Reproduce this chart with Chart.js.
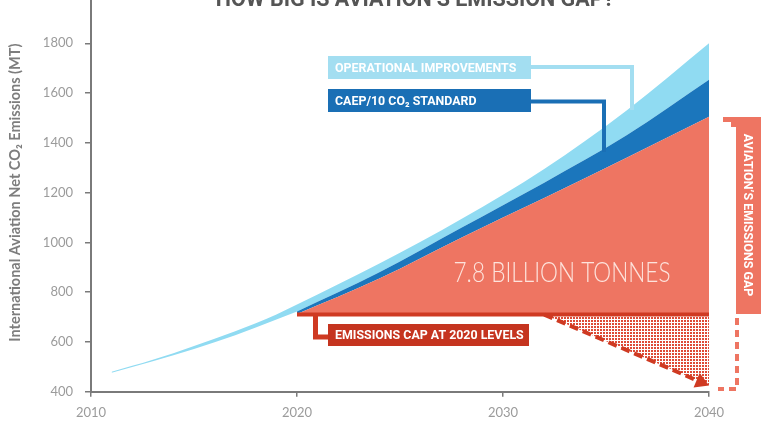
<!DOCTYPE html>
<html>
<head>
<meta charset="utf-8">
<script src="https://cdn.jsdelivr.net/npm/chart.js@4.4.1/dist/chart.umd.min.js"></script>
<style>
  html, body { margin: 0; padding: 0; background: #fff; }
  #frame { position: relative; width: 768px; height: 432px; overflow: hidden; }
  #holder { position: absolute; left: 0; top: -40px; width: 768px; height: 472px; }
</style>
</head>
<body>
<div id="frame"><div id="holder"><canvas id="gap-chart"></canvas></div></div>
<script>
// historical emissions (thin band before 2020)
const histYears = [2011, 2013, 2015, 2017, 2019, 2020];
const histUpper = [480, 528, 584, 643, 710, 750];
const histLower = [476, 522, 572, 627, 690, 722];

// projections 2020-2040
const projYears = [2020, 2024, 2028, 2032, 2036, 2040];
const baseline  = [750, 915, 1095, 1295, 1530, 1800];
const afterOps  = [722, 880, 1060, 1240, 1430, 1653];
const afterCaep = [712, 855, 1020, 1178, 1340, 1505];

// cap at 2020 levels and the path down from it
const capYears = [2020, 2040];
const capValues = [710, 710];
const cutYears = [2032, 2040];
const cutValues = [710, 425];
const arrowYears = [2032, 2039.6];
const arrowValues = [710, 439];

const xTicks = [2010, 2020, 2030, 2040];
const yTicks = [400, 600, 800, 1000, 1200, 1400, 1600, 1800, 2000];

const SHIFT = 40; // canvas is pulled up so the top of the chart is cropped

const LIGHT = '#90dbf2';
const DARK = '#1b76bc';
const SALMON = '#ee7562';
const RED = '#cf3a22';

const pts = (xs, ys) => xs.map((x, i) => ({ x: x, y: ys[i] }));

function dotPattern(ctx) {
  const c = document.createElement('canvas');
  c.width = 3; c.height = 3;
  const g = c.getContext('2d');
  g.fillStyle = '#de4b37';
  g.fillRect(0, 0, 2, 2);
  return ctx.createPattern(c, 'repeat');
}

function box(ctx, text, color, x, y, w, h, font) {
  ctx.fillStyle = color;
  ctx.fillRect(x, y + SHIFT, w, h);
  ctx.fillStyle = '#fff';
  ctx.font = font;
  ctx.textAlign = 'left';
  ctx.textBaseline = 'middle';
  ctx.fillText(text, x + 7, y + SHIFT + h / 2 + 1);
}

function path(ctx, color, width, points) {
  ctx.strokeStyle = color;
  ctx.lineWidth = width;
  ctx.lineJoin = 'miter';
  ctx.beginPath();
  points.forEach((p, i) => i ? ctx.lineTo(p[0], p[1] + SHIFT) : ctx.moveTo(p[0], p[1] + SHIFT));
  ctx.stroke();
}

const callouts = {
  id: 'callouts',
  afterDraw(chart) {
    const ctx = chart.ctx;
    ctx.save();

    // title (mostly cropped off the top)
    ctx.fillStyle = '#555';
    ctx.font = 'bold 21.5px Roboto';
    ctx.textAlign = 'center';
    ctx.textBaseline = 'alphabetic';
    ctx.fillText('HOW BIG IS AVIATION\u2019S EMISSION GAP?', 415, 6 + SHIFT);

    const labelFont = 'bold 12.4px Roboto';
    path(ctx, '#a3def1', 4, [[530, 67], [632, 67], [632, 110]]);
    box(ctx, 'OPERATIONAL IMPROVEMENTS', '#a3def1', 328, 56, 203, 23, labelFont);
    path(ctx, '#1a6fb5', 4, [[530, 101.5], [604, 101.5], [604, 152]]);
    box(ctx, 'CAEP/10 CO\u2082 STANDARD', '#1a6fb5', 328, 89, 203, 23, labelFont);
    path(ctx, RED, 5, [[315.5, 316], [315.5, 337], [330, 337]]);
    box(ctx, 'EMISSIONS CAP AT 2020 LEVELS', '#c5341f', 328, 324, 201, 22, labelFont);

    // total gap, drawn narrow like the original light face
    ctx.save();
    ctx.font = '300 28px Lato';
    const big = '7.8 BILLION TONNES';
    const sx = 217 / ctx.measureText(big).width;
    ctx.translate(562, 273 + SHIFT);
    ctx.scale(sx, 1);
    ctx.fillStyle = '#fde3dc';
    ctx.textAlign = 'center';
    ctx.textBaseline = 'middle';
    ctx.fillText(big, 0, 0);
    ctx.restore();

    // emissions gap bracket
    ctx.fillStyle = SALMON;
    ctx.fillRect(736, 117 + SHIFT, 25, 197);
    ctx.fillRect(723, 117 + SHIFT, 13, 5);
    ctx.fillRect(731, 117 + SHIFT, 5, 10);
    ctx.save();
    ctx.translate(748.5, 215 + SHIFT);
    ctx.rotate(Math.PI / 2);
    ctx.fillStyle = '#fff';
    ctx.font = labelFont;
    ctx.textAlign = 'center';
    ctx.textBaseline = 'middle';
    ctx.fillText('AVIATION\u2019S EMISSIONS GAP', 0, 1);
    ctx.restore();

    ctx.setLineDash([7, 5]);
    path(ctx, SALMON, 4, [[737, 318], [737, 389], [718, 389]]);
    ctx.restore();
  }
};

const ctx = document.getElementById('gap-chart').getContext('2d');

new Chart(ctx, {
  type: 'line',
  data: {
    datasets: [
      { data: pts(capYears, capValues), borderColor: RED, borderWidth: 4, pointRadius: 0, fill: false },
      {
        data: pts(arrowYears, arrowValues), borderColor: RED, borderWidth: 4, borderDash: [9, 5],
        pointRadius: [0, 9], pointStyle: 'triangle', pointRotation: 113,
        pointBackgroundColor: RED, pointBorderWidth: 0, fill: false, clip: false
      },
      { data: pts(cutYears, cutValues), borderWidth: 0, pointRadius: 0, backgroundColor: dotPattern(ctx), fill: { value: capValues[0] } },
      { data: pts(projYears, afterCaep), borderWidth: 0, pointRadius: 0, backgroundColor: SALMON, fill: { value: capValues[0] }, cubicInterpolationMode: 'monotone' },
      { data: pts(projYears, afterOps), borderWidth: 0, pointRadius: 0, backgroundColor: DARK, fill: '-1', cubicInterpolationMode: 'monotone' },
      { data: pts(projYears, baseline), borderWidth: 0, pointRadius: 0, backgroundColor: LIGHT, fill: '-1', cubicInterpolationMode: 'monotone' },
      { data: pts(histYears, histUpper), borderWidth: 0, pointRadius: 0, backgroundColor: LIGHT, fill: '+1', cubicInterpolationMode: 'monotone' },
      { data: pts(histYears, histLower), borderWidth: 0, pointRadius: 0, fill: false, cubicInterpolationMode: 'monotone' }
    ]
  },
  options: {
    responsive: true,
    maintainAspectRatio: false,
    animation: false,
    events: [],
    layout: { padding: { top: 33.5, right: 59, left: 0, bottom: 0 } },
    plugins: {
      legend: { display: false },
      tooltip: { enabled: false }
    },
    scales: {
      x: {
        type: 'linear',
        min: 2010,
        max: 2040,
        afterBuildTicks: s => { s.ticks = xTicks.map(v => ({ value: v })); },
        afterFit: s => { s.height = 40.3; },
        grid: { drawOnChartArea: false, tickLength: 5, color: '#7a7a7a', lineWidth: 1.5 },
        border: { display: true, color: '#7a7a7a', width: 2 },
        ticks: { color: '#9b9b9b', font: { family: 'Lato', size: 13 }, padding: 8, maxRotation: 0, callback: v => String(v) }
      },
      y: {
        min: 400,
        max: 2000,
        afterBuildTicks: s => { s.ticks = yTicks.map(v => ({ value: v })); },
        afterFit: s => { s.width = 91; },
        grid: { drawOnChartArea: false, tickLength: 6, color: '#7a7a7a', lineWidth: 1.5 },
        border: { display: true, color: '#7a7a7a', width: 2 },
        ticks: { color: '#9b9b9b', font: { family: 'Lato', size: 13 }, padding: 12, callback: v => String(v) },
        title: {
          display: true,
          text: 'International Aviation Net CO\u2082 Emissions (MT)',
          color: '#7d7d7d',
          font: { family: 'Lato', size: 14.5, weight: 'bold' },
          padding: { top: 7, bottom: 0 }
        }
      }
    }
  },
  plugins: [callouts]
});
</script>
</body>
</html>
